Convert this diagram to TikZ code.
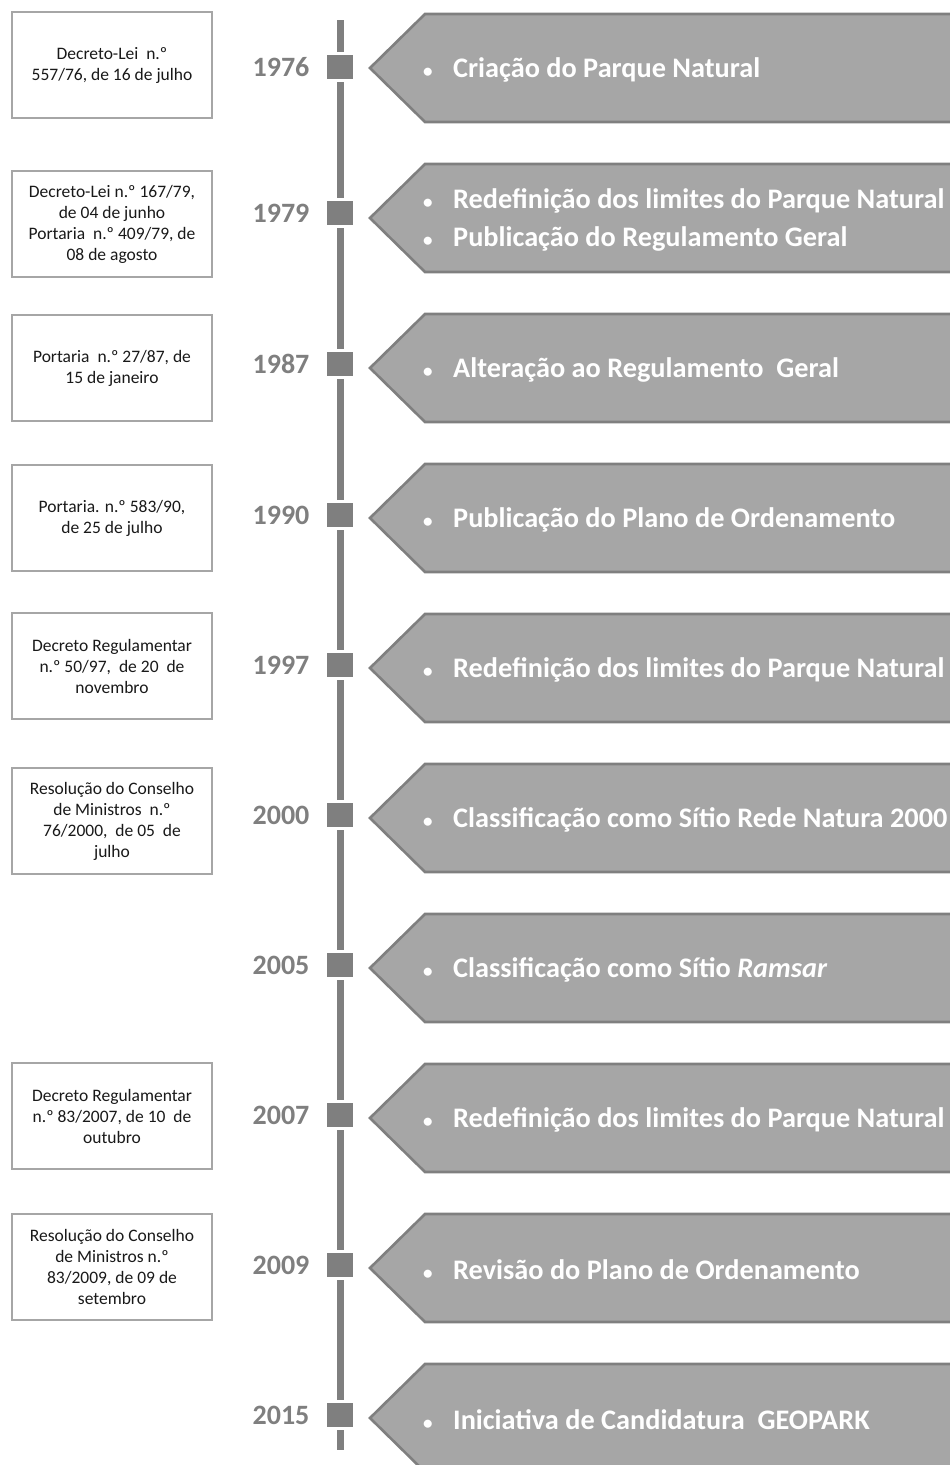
\documentclass[tikz,border=0pt]{standalone}
\usepackage{fontspec}
\setmainfont{Carlito}
\definecolor{cinzaesc}{HTML}{7F7F7F}
\definecolor{cinza}{HTML}{A6A6A6}
\newcommand{\marcador}{\makebox[30pt][l]{\fontsize{19}{19}\selectfont\textbullet}}

\begin{document}
\begin{tikzpicture}[x=1pt,y=-1pt,
    caixa/.style={draw=cinza,line width=2.2pt,fill=white,minimum width=200pt,minimum height=106pt,align=center,inner sep=2pt,text=black!90,font=\fontsize{17.5}{21}\selectfont},
    ano/.style={text=cinzaesc,font=\fontsize{28}{28}\selectfont\bfseries},
    marco/.style={fill=cinzaesc,draw=white,line width=2.5pt,minimum width=28pt,minimum height=27pt,inner sep=0pt},
    seta/.style={fill=cinza,draw=cinzaesc,line width=2.6pt,line join=miter},
    evento/.style={anchor=west,text=white,align=left,inner sep=0pt,font=\fontsize{28.3}{38}\selectfont\bfseries}]
        \useasboundingbox (0,0) rectangle (950,1465);
        \clip (0,0) rectangle (950,1465);
        \coordinate (topo) at (340,20);
        \coordinate (base) at (340,1450);
        \draw[cinzaesc,line width=7pt] (topo)--(base);

        \draw[seta] (960,14)--(425,14)--(370,68)--(425,122)--(960,122)--cycle;
        \draw[seta] (960,164)--(425,164)--(370,218)--(425,272)--(960,272)--cycle;
        \draw[seta] (960,314)--(425,314)--(370,368)--(425,422)--(960,422)--cycle;
        \draw[seta] (960,464)--(425,464)--(370,518)--(425,572)--(960,572)--cycle;
        \draw[seta] (960,614)--(425,614)--(370,668)--(425,722)--(960,722)--cycle;
        \draw[seta] (960,764)--(425,764)--(370,818)--(425,872)--(960,872)--cycle;
        \draw[seta] (960,914)--(425,914)--(370,968)--(425,1022)--(960,1022)--cycle;
        \draw[seta] (960,1064)--(425,1064)--(370,1118)--(425,1172)--(960,1172)--cycle;
        \draw[seta] (960,1214)--(425,1214)--(370,1268)--(425,1322)--(960,1322)--cycle;
        \draw[seta] (960,1364)--(425,1364)--(370,1418)--(425,1472)--(960,1472)--cycle;

        \node[evento] (t1976) at (423,70) {\marcador Criação do Parque Natural};
        \node[evento] (t1979) at (423,220) {\marcador Redefinição dos limites do Parque Natural\\\marcador Publicação do Regulamento Geral};
        \node[evento] (t1987) at (423,370) {\marcador Alteração ao Regulamento\ \ Geral};
        \node[evento] (t1990) at (423,520) {\marcador Publicação do Plano de Ordenamento};
        \node[evento] (t1997) at (423,670) {\marcador Redefinição dos limites do Parque Natural};
        \node[evento] (t2000) at (423,820) {\marcador Classificação como Sítio Rede Natura 2000};
        \node[evento] (t2005) at (423,970) {\marcador Classificação como Sítio \textit{Ramsar}};
        \node[evento] (t2007) at (423,1120) {\marcador Redefinição dos limites do Parque Natural};
        \node[evento] (t2009) at (423,1270) {\marcador Revisão do Plano de Ordenamento};
        \node[evento] (t2015) at (423,1420) {\marcador Iniciativa de Candidatura\ \ GEOPARK};

        \node[marco] (m1976) at (340,67) {};
        \node[marco] (m1979) at (340,213) {};
        \node[marco] (m1987) at (340,364) {};
        \node[marco] (m1990) at (340,515) {};
        \node[marco] (m1997) at (340,665) {};
        \node[marco] (m2000) at (340,815) {};
        \node[marco] (m2005) at (340,965) {};
        \node[marco] (m2007) at (340,1115) {};
        \node[marco] (m2009) at (340,1265) {};
        \node[marco] (m2015) at (340,1415) {};

        \node[ano] (a1976) at (281,67) {1976};
        \node[ano] (a1979) at (281,213) {1979};
        \node[ano] (a1987) at (281,364) {1987};
        \node[ano] (a1990) at (281,515) {1990};
        \node[ano] (a1997) at (281,665) {1997};
        \node[ano] (a2000) at (281,815) {2000};
        \node[ano] (a2005) at (281,965) {2005};
        \node[ano] (a2007) at (281,1115) {2007};
        \node[ano] (a2009) at (281,1265) {2009};
        \node[ano] (a2015) at (281,1415) {2015};

        \node[caixa] (b1976) at (112,65) {Decreto-Lei\ \ n.º\\557/76, de 16 de julho};
        \node[caixa] (b1979) at (112,224) {Decreto-Lei n.º 167/79,\\de 04 de junho\\Portaria\ \ n.º 409/79, de\\08 de agosto};
        \node[caixa] (b1987) at (112,368) {Portaria\ \ n.º 27/87, de\\15 de janeiro};
        \node[caixa] (b1990) at (112,518) {Portaria. n.º 583/90,\\de 25 de julho};
        \node[caixa] (b1997) at (112,666) {Decreto Regulamentar\\n.º 50/97,\ \ de 20\ \ de\\novembro};
        \node[caixa] (b2000) at (112,821) {Resolução do Conselho\\de Ministros\ \ n.º\\76/2000,\ \ de 05\ \ de\\julho};
        \node[caixa] (b2007) at (112,1116) {Decreto Regulamentar\\n.º 83/2007, de 10\ \ de\\outubro};
        \node[caixa] (b2009) at (112,1267) {Resolução do Conselho\\de Ministros n.º\\83/2009, de 09 de\\setembro};
\end{tikzpicture}
\end{document}
